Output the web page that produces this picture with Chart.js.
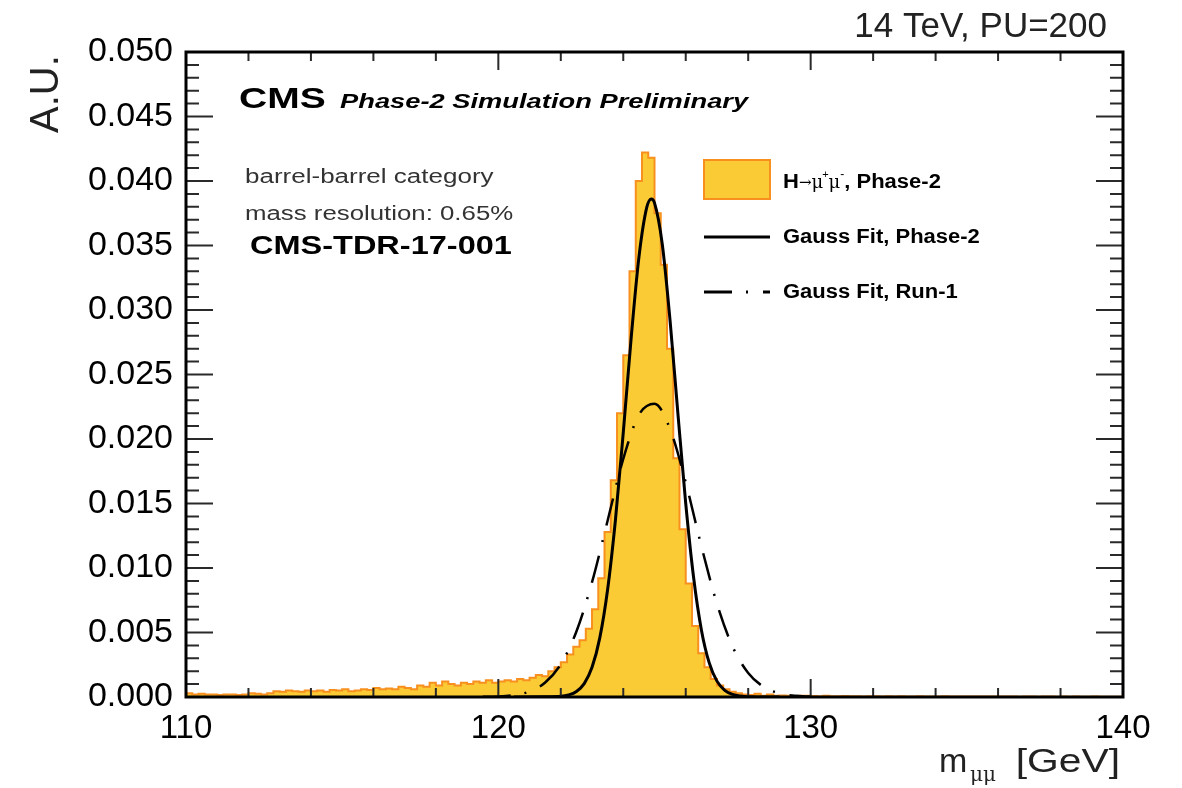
<!DOCTYPE html>
<html>
<head>
<meta charset="utf-8">
<title>H to mumu mass resolution</title>
<script src="https://cdn.jsdelivr.net/npm/chart.js@4.4.1/dist/chart.umd.min.js"></script>
<style>
  html, body { margin: 0; padding: 0; background: #fff; }
  #wrap { width: 1182px; height: 788px; }
</style>
</head>
<body>
<div id="wrap"><canvas id="massChart" width="1182" height="788"></canvas></div>
<script>
// histogram: 0.2 GeV bins from 110 to 140
const binLow = 110;
const binWidth = 0.2;
const histValues = [
  0.0005, 0.0003, 0.0002, 0.00025, 0.0002, 0.0002, 0.00015, 0.0002, 0.0002, 0.00015,
  0.0002, 0.0003, 0.00025, 0.0002, 0.0003, 0.00045, 0.0004, 0.0005, 0.00045, 0.0004,
  0.0005, 0.00045, 0.0005, 0.0004, 0.00055, 0.0005, 0.0006, 0.00045, 0.0005, 0.0006,
  0.00055, 0.0007, 0.0006, 0.00065, 0.0006, 0.0008, 0.0007, 0.0006, 0.0009, 0.0008,
  0.0011, 0.0009, 0.0012, 0.001, 0.0009, 0.0011, 0.001, 0.0012, 0.0011, 0.0013,
  0.0011, 0.0012, 0.0013, 0.0012, 0.0014, 0.0013, 0.0015, 0.0017, 0.0016, 0.002,
  0.0023, 0.0027, 0.0033, 0.0039, 0.0044, 0.0053, 0.0068, 0.0092, 0.0128, 0.0168,
  0.022, 0.0265, 0.033, 0.040, 0.0422, 0.0418, 0.0375, 0.0335, 0.027, 0.0185,
  0.013, 0.0088, 0.0055, 0.0034, 0.0023, 0.0014, 0.0009, 0.0006, 0.0004, 0.0003,
  0.0002, 0.00015, 0.00025, 0.0001, 0.0002, 0.0001, 0.00012, 0.0001, 0.00008, 0.0001,
  0.0001, 0.00008, 0.00006, 0.00009, 0.00006, 0.00005, 0.00007, 0.00005, 0.00006, 0.00004,
  0.00005, 0.00006, 0.00004, 0.00005, 0.00004, 0.00006, 0.00004, 0.00003, 0.00005, 0.00004,
  0.00004, 0.00003, 0.00005, 0.00004, 0.00003, 0.00004, 0.00003, 0.00004, 0.00003, 0.00003,
  0.00004, 0.00003, 0.00003, 0.00004, 0.00002, 0.00003, 0.00003, 0.00002, 0.00003, 0.00003,
  0.00002, 0.00003, 0.00002, 0.00003, 0.00002, 0.00002, 0.00003, 0.00002, 0.00002, 0.00002
];

// Gauss fit, Phase-2
const fitP2X = [120.5, 121.5, 122.0, 122.25, 122.5, 122.75, 123.0, 123.25, 123.5, 123.75, 124.0, 124.25,
  124.5, 124.75, 124.9, 125.0, 125.25, 125.5, 125.75, 126.0, 126.25, 126.5, 126.75, 127.0, 127.25,
  127.5, 127.75, 128.0, 129.0];
const fitP2Y = [0, 0.00001, 0.00005, 0.00016, 0.00043, 0.00104, 0.0023, 0.0046, 0.00835, 0.01374, 0.0205, 0.02775,
  0.03406, 0.03793, 0.0386, 0.0383, 0.03508, 0.02914, 0.02195, 0.0150, 0.0093, 0.00522, 0.00266, 0.00123, 0.00052,
  0.0002, 0.00007, 0.00002, 0];

// Gauss fit, Run-1 (dash-dot curve)
const fitR1X = [119.5, 120.0, 120.5, 121.0, 121.5, 122.0, 122.5, 123.0, 123.5, 124.0, 124.5, 125.0,
  125.5, 126.0, 126.5, 127.0, 127.5, 128.0, 128.5, 129.0, 129.5, 130.0];
const fitR1Y = [0.00001, 0.00004, 0.00015, 0.00043, 0.00112, 0.00255, 0.00508, 0.0089, 0.01368, 0.01846, 0.02187, 0.02274,
  0.02076, 0.01663, 0.0117, 0.00723, 0.00391, 0.00186, 0.00078, 0.00029, 0.00009, 0.00003];

const FONT = '"Liberation Sans", Arial, Helvetica, sans-serif';
const SYMBOL_FONT = '"DejaVu Serif", "Liberation Serif", serif';
const FILL_YELLOW = '#FACB35';
const LINE_ORANGE = '#F7901E';
const DASH_DOT = [28, 14, 2, 15];

const histPoints = histValues.map((v, i) => ({ x: binLow + i * binWidth, y: v }));
histPoints.push({ x: binLow + histValues.length * binWidth, y: histValues[histValues.length - 1] });
const p2Points = fitP2X.map((x, i) => ({ x: x, y: fitP2Y[i] }));
const r1Points = fitR1X.map((x, i) => ({ x: x, y: fitR1Y[i] }));

// draws text stretched horizontally by sx, returns the drawn width
function stretchText(ctx, text, x, y, font, color, sx, align) {
  ctx.save();
  ctx.font = font;
  ctx.fillStyle = color;
  ctx.textBaseline = 'alphabetic';
  ctx.textAlign = align || 'left';
  const w = ctx.measureText(text).width * sx;
  ctx.translate(x, y);
  ctx.scale(sx, 1);
  ctx.fillText(text, 0, 0);
  ctx.restore();
  return w;
}

// frame, inward ticks, labels and legend in ROOT style
const cmsDecor = {
  id: 'cmsDecor',
  afterDatasetsDraw(chart) {
    const ctx = chart.ctx;
    const a = chart.chartArea;
    const xs = chart.scales.x;
    const ys = chart.scales.y;

    ctx.save();
    ctx.strokeStyle = '#2a2a2a';
    ctx.lineWidth = 2;
    ctx.beginPath();
    for (let v = 110; v <= 140.001; v += 2) {
      const px = xs.getPixelForValue(v);
      const len = (Math.round(v) % 10 === 0) ? 18 : 9;
      ctx.moveTo(px, a.bottom); ctx.lineTo(px, a.bottom - len);
      ctx.moveTo(px, a.top); ctx.lineTo(px, a.top + len);
    }
    for (let k = 0; k <= 50; k++) {
      const py = ys.getPixelForValue(k * 0.001);
      const len = (k % 5 === 0) ? 27 : 13;
      ctx.moveTo(a.left, py); ctx.lineTo(a.left + len, py);
      ctx.moveTo(a.right, py); ctx.lineTo(a.right - len, py);
    }
    ctx.stroke();

    ctx.strokeStyle = '#000';
    ctx.lineWidth = 3;
    ctx.strokeRect(a.left, a.top, a.right - a.left, a.bottom - a.top);
    ctx.restore();

    // texts inside the frame
    stretchText(ctx, 'CMS', 239, 108, 'bold 30px ' + FONT, '#000', 1.3);
    stretchText(ctx, 'Phase-2 Simulation Preliminary', 340, 108, 'italic bold 21px ' + FONT, '#000', 1.3);
    stretchText(ctx, 'barrel-barrel category', 245, 183, '20px ' + FONT, '#333', 1.3);
    stretchText(ctx, 'mass resolution: 0.65%', 245, 220, '20px ' + FONT, '#333', 1.29);
    stretchText(ctx, 'CMS-TDR-17-001', 250, 254, 'bold 25px ' + FONT, '#000', 1.3);

    // top right label
    stretchText(ctx, '14 TeV, PU=200', 1107, 37, '35px ' + FONT, '#222', 1.0, 'right');

    // axis titles
    ctx.save();
    ctx.translate(58, 133);
    ctx.rotate(-Math.PI / 2);
    ctx.font = '40px ' + FONT;
    ctx.fillStyle = '#222';
    ctx.textAlign = 'left';
    ctx.fillText('A.U.', 0, 0);
    ctx.restore();
    stretchText(ctx, 'm', 939, 772, '34px ' + FONT, '#222', 1.0);
    stretchText(ctx, 'μμ', 970, 781, '20px ' + SYMBOL_FONT, '#222', 1.0);
    stretchText(ctx, '[GeV]', 1120, 772, '34px ' + FONT, '#222', 1.2, 'right');

    // legend
    ctx.save();
    ctx.fillStyle = FILL_YELLOW;
    ctx.strokeStyle = LINE_ORANGE;
    ctx.lineWidth = 2;
    ctx.fillRect(704, 160, 66, 39);
    ctx.strokeRect(704, 160, 66, 39);
    ctx.strokeStyle = '#000';
    ctx.lineWidth = 3;
    ctx.beginPath(); ctx.moveTo(704, 237); ctx.lineTo(770, 237); ctx.stroke();
    ctx.setLineDash(DASH_DOT);
    ctx.beginPath(); ctx.moveTo(704, 292); ctx.lineTo(770, 292); ctx.stroke();
    ctx.restore();

    let lx = 783;
    lx += stretchText(ctx, 'H', lx, 188, 'bold 20px ' + FONT, '#000', 1.1);
    lx += stretchText(ctx, '→', lx, 187, '15px ' + SYMBOL_FONT, '#000', 1.0);
    lx += stretchText(ctx, 'μ', lx, 188, '18px ' + SYMBOL_FONT, '#000', 1.0);
    lx += stretchText(ctx, '+', lx - 1, 178, '11px ' + FONT, '#000', 1.0) - 1;
    lx += stretchText(ctx, 'μ', lx, 188, '18px ' + SYMBOL_FONT, '#000', 1.0);
    lx += stretchText(ctx, '-', lx, 178, '12px ' + FONT, '#000', 1.0);
    stretchText(ctx, ', Phase-2', lx, 188, 'bold 20px ' + FONT, '#000', 1.1);
    stretchText(ctx, 'Gauss Fit, Phase-2', 783, 243, 'bold 20px ' + FONT, '#000', 1.1);
    stretchText(ctx, 'Gauss Fit, Run-1', 783, 298, 'bold 20px ' + FONT, '#000', 1.1);
  }
};

const massChart = new Chart(document.getElementById('massChart').getContext('2d'), {
  type: 'line',
  data: {
    datasets: [
      {
        label: 'Gauss Fit, Phase-2',
        data: p2Points,
        borderColor: '#000',
        borderWidth: 3,
        pointRadius: 0,
        cubicInterpolationMode: 'monotone',
        fill: false,
        order: 1
      },
      {
        label: 'Gauss Fit, Run-1',
        data: r1Points,
        borderColor: '#000',
        borderWidth: 2.5,
        borderDash: DASH_DOT,
        pointRadius: 0,
        cubicInterpolationMode: 'monotone',
        fill: false,
        order: 2
      },
      {
        label: 'H→μ+μ-, Phase-2',
        data: histPoints,
        stepped: 'after',
        borderColor: LINE_ORANGE,
        borderWidth: 2,
        backgroundColor: FILL_YELLOW,
        pointRadius: 0,
        fill: 'origin',
        order: 3
      }
    ]
  },
  options: {
    responsive: false,
    animation: false,
    devicePixelRatio: 1,
    layout: {
      padding: { left: 0, top: 52, right: 59, bottom: 0 }
    },
    plugins: {
      legend: { display: false },
      tooltip: { enabled: false },
      title: { display: false }
    },
    scales: {
      x: {
        type: 'linear',
        min: 110,
        max: 140,
        grid: { display: false, drawTicks: false },
        border: { display: false },
        ticks: {
          stepSize: 10,
          autoSkip: false,
          maxRotation: 0,
          padding: 12,
          color: '#000',
          font: { family: FONT, size: 33 }
        },
        afterFit(scale) { scale.height = 91; }
      },
      y: {
        min: 0,
        max: 0.05,
        grid: { display: false, drawTicks: false },
        border: { display: false },
        ticks: {
          stepSize: 0.005,
          autoSkip: false,
          padding: 13,
          color: '#000',
          font: { family: FONT, size: 34 },
          callback: (v) => Number(v).toFixed(3)
        },
        afterFit(scale) { scale.width = 186; }
      }
    }
  },
  plugins: [cmsDecor]
});
</script>
</body>
</html>
